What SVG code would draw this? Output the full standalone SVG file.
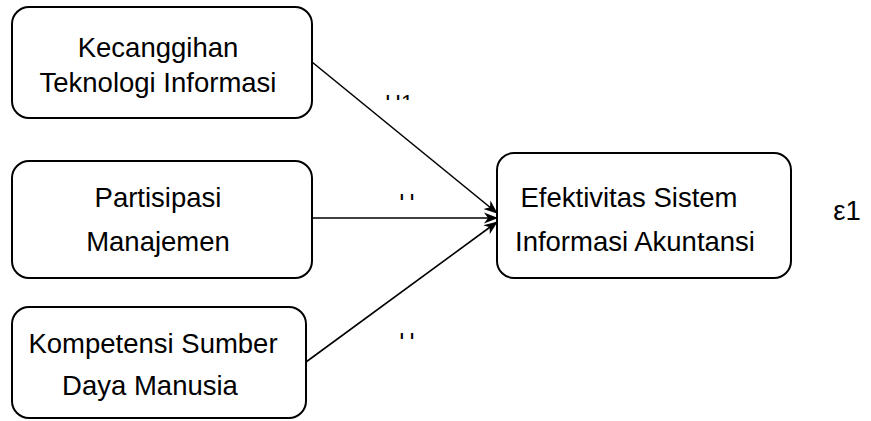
<svg xmlns="http://www.w3.org/2000/svg" width="871" height="421" viewBox="0 0 871 421">
<style>
.box{fill:#fff;stroke:#000;stroke-width:2}
.t{font-family:"Liberation Sans",Arial,sans-serif;font-size:27.5px;fill:#000;text-anchor:middle}
.lbl{font-family:"Liberation Sans",Arial,sans-serif;font-size:22px;fill:#000}
.c{stroke:#000;stroke-width:1.6;fill:none;marker-end:url(#ah)}
</style>
<defs>
<marker id="ah" markerWidth="14" markerHeight="12" refX="13" refY="6" orient="auto" markerUnits="userSpaceOnUse">
<path d="M0,0.5 L14,6 L0,11.5 L4,6 z" fill="#000"/>
</marker>
<clipPath id="c1"><rect x="380" y="94" width="45" height="6"/></clipPath>
<clipPath id="c2"><rect x="398" y="193" width="18" height="7"/></clipPath>
<clipPath id="c3"><rect x="398" y="332" width="18" height="7"/></clipPath>
</defs>
<rect width="871" height="421" fill="#fff"/>
<g id="connectors">
<line class="c" x1="312" y1="62" x2="497" y2="213"/>
<line class="c" x1="312" y1="218" x2="497" y2="218"/>
<line class="c" x1="306" y1="362" x2="497" y2="222"/>
</g>
<g id="labels">
<text class="lbl" x="385" y="110" clip-path="url(#c1)">H1</text>
<text class="lbl" x="399" y="209" clip-path="url(#c2)">H2</text>
<text class="lbl" x="399" y="348" clip-path="url(#c3)">H3</text>
</g>
<g id="n1">
<rect class="box" x="12" y="7" width="300" height="111" rx="17"/>
<text class="t" x="158" y="57">Kecanggihan</text>
<text class="t" x="158" y="92">Teknologi Informasi</text>
</g>
<g id="n2">
<rect class="box" x="12" y="161" width="300" height="117" rx="17"/>
<text class="t" x="158" y="207">Partisipasi</text>
<text class="t" x="158" y="251">Manajemen</text>
</g>
<g id="n3">
<rect class="box" x="12" y="307" width="294" height="111" rx="17"/>
<text class="t" x="153" y="353">Kompetensi Sumber</text>
<text class="t" x="150" y="395">Daya Manusia</text>
</g>
<g id="n4">
<rect class="box" x="497" y="153" width="294" height="125" rx="17"/>
<text class="t" x="629" y="207">Efektivitas Sistem</text>
<text class="t" x="635" y="251">Informasi Akuntansi</text>
</g>
<g id="e1">
<text class="t" x="847" y="220">ε1</text>
</g>
</svg>
